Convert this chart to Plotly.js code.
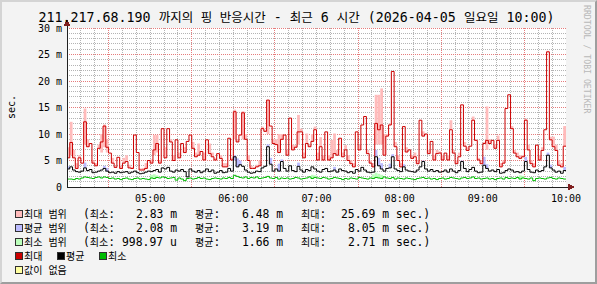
<!DOCTYPE html>
<html><head><meta charset="utf-8">
<script src="https://cdn.plot.ly/plotly-3.0.1.min.js"></script>
<style>
html,body{margin:0;padding:0;background:#f3f3f3;}
#wrap{position:relative;width:597px;height:284px;overflow:hidden;}
#chart{width:597px;height:284px;}
#chart .shapelayer path{shape-rendering:crispEdges;}
#frame{position:absolute;left:0;top:0;width:597px;height:284px;box-sizing:border-box;border-top:2px solid #d4d4d4;border-left:2px solid #d4d4d4;border-right:2px solid #9e9e9e;border-bottom:2px solid #9e9e9e;pointer-events:none;}
</style></head><body>
<div id="wrap"><div id="chart"></div><div id="frame"></div></div>
<script>
// ---------------- data ----------------
const DAY = '2026-04-05';
const START_MIN = 240;   // 04:00
const END_MIN = 600;     // 10:00
const STEP_MIN = 2;

const TITLE = '211.217.68.190 까지의 핑 반응시간 - 최근 6 시간 (2026-04-05 일요일 10:00)';

// 최대 (max) line, ms
const maxLine = [
 5.5, 8.4, 5.5, 3.5, 5.5, 4.5, 12.3, 7.6, 8.2, 4.5,
 4.0, 7.3, 8.5, 11.5, 7.5, 6.4, 4.5, 3.7, 5.6, 3.5,
 4.5, 4.8, 3.6, 3.5, 9.8, 6.5, 3.2, 3.2, 3.5, 5.0,
 4.5, 7.0, 8.2, 4.5, 11.0, 5.5, 11.0, 8.5, 5.0, 8.9,
 5.5, 8.2, 6.5, 8.6, 9.8, 7.3, 5.7, 6.0, 6.7, 5.1,
 8.9, 6.3, 5.7, 5.1, 6.3, 5.4, 3.8, 3.8, 9.2, 5.1,
 14.2, 8.5, 9.8, 14.0, 9.0, 5.0, 3.5, 3.5, 3.8, 4.0,
 11.0, 10.5, 16.4, 11.5, 8.2, 8.0, 6.5, 9.0, 9.8, 6.0,
 13.0, 7.0, 7.5, 10.4, 10.4, 5.5, 8.2, 7.6, 8.6, 10.8,
 5.1, 7.6, 5.1, 10.4, 5.1, 5.5, 6.3, 6.0, 9.2, 5.7,
 7.0, 5.0, 4.4, 3.8, 10.4, 7.0, 11.7, 13.3, 6.3, 4.5,
 3.8, 12.0, 10.8, 11.7, 6.0, 9.6, 11.7, 21.8, 7.6, 5.0,
 3.8, 11.4, 6.6, 7.0, 5.4, 5.7, 4.4, 12.6, 9.6, 10.0,
 6.3, 8.6, 5.1, 6.3, 6.4, 5.1, 6.4, 5.1, 10.8, 6.4,
 4.4, 5.7, 15.5, 7.7, 6.9, 7.7, 12.6, 8.8, 5.1, 4.4,
 8.2, 8.8, 8.2, 8.8, 7.3, 8.8, 3.8, 4.5, 14.8, 17.4,
 11.0, 6.4, 5.7, 5.4, 5.7, 12.6, 7.0, 4.4, 3.8, 7.9,
 5.1, 6.9, 10.8, 25.5, 8.9, 7.6, 6.9, 4.1, 3.8, 7.7
];
// 최대 범위 (max range) top and bottom
const maxRangeHi = [
 7.5, 12.3, 7.0, 4.5, 6.0, 4.5, 14.8, 9.0, 8.2, 5.0,
 4.5, 8.0, 10.0, 11.8, 9.0, 6.4, 5.5, 4.0, 5.6, 4.0,
 5.5, 6.0, 4.2, 3.8, 9.8, 6.5, 3.5, 3.6, 4.5, 5.0,
 5.2, 9.8, 9.8, 5.0, 11.0, 7.5, 11.0, 9.0, 6.0, 8.9,
 6.5, 8.2, 7.5, 8.6, 9.8, 8.5, 6.5, 8.2, 6.7, 6.5,
 8.9, 8.2, 6.5, 5.5, 6.3, 6.0, 4.5, 4.5, 9.2, 5.5,
 14.6, 9.0, 10.0, 14.3, 10.0, 6.0, 4.0, 3.8, 4.2, 5.0,
 11.4, 10.8, 16.4, 11.5, 9.0, 9.0, 10.0, 10.0, 9.8, 7.0,
 13.0, 8.0, 7.9, 13.6, 11.0, 6.5, 10.1, 8.0, 10.0, 11.4,
 6.5, 9.4, 6.0, 10.4, 6.0, 8.9, 10.1, 7.0, 9.2, 6.5,
 7.9, 6.0, 5.0, 4.5, 10.4, 8.0, 11.7, 13.3, 7.0, 5.0,
 4.5, 17.4, 17.4, 18.6, 10.0, 10.0, 12.0, 21.8, 8.5, 6.0,
 4.5, 11.4, 7.5, 7.0, 6.0, 6.5, 5.0, 12.6, 10.5, 10.0,
 7.0, 8.6, 6.0, 7.0, 6.7, 6.0, 6.4, 6.0, 12.6, 7.0,
 5.0, 6.5, 15.5, 8.5, 7.5, 7.7, 13.3, 9.0, 5.5, 5.0,
 8.5, 15.2, 9.0, 8.8, 8.0, 9.7, 4.5, 5.0, 14.8, 17.4,
 11.5, 7.0, 6.5, 6.0, 6.0, 12.9, 8.0, 5.0, 4.5, 7.9,
 6.0, 7.5, 10.8, 25.7, 9.5, 9.5, 8.0, 5.0, 4.5, 11.5
];
const maxRangeLo = [
 5.5, 6.0, 5.5, 3.5, 5.5, 4.5, 8.0, 7.6, 8.2, 4.5,
 4.0, 7.3, 6.5, 7.5, 6.5, 6.4, 4.5, 3.7, 5.6, 3.5,
 4.5, 4.8, 3.6, 3.5, 9.8, 6.5, 3.2, 3.2, 3.5, 5.0,
 4.5, 6.0, 6.5, 4.5, 11.0, 5.5, 11.0, 8.5, 5.0, 8.9,
 5.5, 8.2, 6.5, 8.6, 9.8, 7.3, 5.7, 6.0, 6.7, 5.1,
 8.9, 6.3, 5.7, 5.1, 6.3, 5.4, 3.8, 3.8, 9.2, 5.1,
 9.0, 8.5, 9.8, 9.0, 9.0, 5.0, 3.5, 3.5, 3.8, 4.0,
 11.0, 10.5, 10.0, 11.5, 8.2, 8.0, 6.5, 9.0, 9.8, 6.0,
 13.0, 7.0, 7.5, 8.0, 10.4, 5.5, 8.2, 7.6, 8.6, 10.8,
 5.1, 7.6, 5.1, 10.4, 5.1, 5.5, 6.3, 6.0, 9.2, 5.7,
 7.0, 5.0, 4.4, 3.8, 10.4, 7.0, 11.7, 13.3, 6.3, 4.5,
 3.8, 8.0, 8.0, 8.0, 6.0, 9.6, 11.7, 21.8, 7.6, 5.0,
 3.8, 11.4, 6.6, 7.0, 5.4, 5.7, 4.4, 12.6, 9.6, 10.0,
 6.3, 8.6, 5.1, 6.3, 6.4, 5.1, 6.4, 5.1, 10.8, 6.4,
 4.4, 5.7, 15.5, 7.7, 6.9, 7.7, 12.6, 8.8, 5.1, 4.4,
 8.2, 7.0, 8.2, 8.8, 7.3, 8.8, 3.8, 4.5, 14.8, 17.4,
 11.0, 6.4, 5.7, 5.4, 5.7, 12.6, 7.0, 4.4, 3.8, 7.9,
 5.1, 6.9, 10.8, 25.5, 8.9, 7.6, 6.9, 4.1, 3.8, 7.7
];
// 평균 (average) line
const avgLine = [
 3.4, 3.8, 3.2, 2.9, 2.8, 3.0, 3.6, 3.1, 3.3, 2.7,
 2.8, 3.0, 3.2, 3.5, 3.0, 2.7, 2.8, 2.6, 2.9, 2.7,
 2.8, 2.9, 2.6, 2.8, 3.0, 2.7, 2.5, 2.6, 2.8, 3.0,
 2.9, 3.1, 3.3, 2.8, 3.6, 3.4, 3.7, 3.0, 2.8, 3.2,
 3.0, 3.3, 2.9, 1.9, 3.4, 3.0, 2.8, 3.1, 2.7, 3.0,
 3.4, 2.9, 3.2, 2.6, 2.8, 3.1, 2.7, 2.8, 3.5, 3.0,
 5.7, 3.8, 4.2, 3.9, 3.2, 2.8, 2.6, 2.7, 3.0, 2.9,
 3.6, 3.9, 7.6, 4.3, 3.0, 3.4, 3.0, 4.8, 3.5, 3.0,
 4.0, 3.1, 2.9, 3.9, 3.2, 2.8, 3.3, 3.1, 3.8, 3.4,
 3.0, 2.8, 3.3, 3.5, 2.9, 3.0, 3.2, 2.8, 3.4, 3.1,
 3.0, 2.7, 2.9, 2.6, 3.3, 3.0, 3.7, 3.2, 2.8, 2.7,
 2.8, 5.7, 4.0, 3.4, 3.0, 3.5, 3.6, 5.7, 3.4, 3.1,
 2.9, 3.8, 3.2, 3.0, 2.9, 2.8, 3.2, 3.8, 4.8, 3.4,
 3.0, 3.3, 2.9, 3.1, 2.8, 2.9, 3.2, 2.8, 3.4, 3.0,
 2.7, 3.1, 4.8, 3.5, 2.9, 3.3, 3.7, 3.0, 2.7, 2.8,
 4.1, 3.5, 3.0, 3.2, 2.9, 3.3, 2.6, 2.7, 3.1, 3.4,
 3.2, 2.8, 2.9, 2.7, 3.0, 4.8, 3.3, 2.8, 2.7, 3.2,
 2.9, 3.1, 3.8, 6.0, 3.6, 3.2, 2.8, 3.0, 2.6, 3.1
];
// 최소 (min) line
const minLine = [
 1.5, 1.5, 1.4, 1.6, 1.5, 1.7, 1.9, 1.8, 1.7, 1.6,
 1.8, 1.9, 1.7, 1.9, 1.8, 1.6, 1.7, 1.5, 1.6, 1.4,
 1.6, 1.7, 1.5, 1.4, 1.6, 1.7, 1.5, 1.6, 1.5, 1.4,
 1.7, 1.6, 1.8, 1.7, 1.9, 1.8, 1.6, 1.7, 1.8, 1.3,
 1.7, 1.5, 1.2, 1.6, 1.7, 1.5, 1.6, 1.8, 1.6, 1.7,
 1.5, 1.4, 1.6, 1.7, 1.6, 1.5, 1.7, 1.6, 1.8, 1.6,
 2.2, 2.0, 1.8, 1.7, 1.9, 1.6, 1.8, 1.7, 1.9, 1.6,
 1.7, 1.8, 2.0, 1.7, 1.6, 1.8, 1.5, 1.7, 1.6, 1.7,
 1.5, 1.6, 1.8, 1.7, 1.5, 1.6, 1.7, 1.9, 1.6, 1.8,
 1.7, 1.6, 1.8, 1.7, 1.5, 1.6, 1.8, 1.7, 1.6, 1.4,
 1.6, 1.5, 1.7, 1.6, 1.5, 1.8, 1.7, 1.6, 1.5, 1.7,
 1.6, 1.8, 1.7, 1.6, 1.9, 1.7, 1.6, 1.8, 1.5, 1.7,
 1.6, 1.5, 1.7, 1.6, 1.5, 1.4, 1.6, 1.7, 1.8, 1.6,
 1.7, 1.5, 1.6, 1.4, 1.6, 1.7, 1.5, 1.6, 1.8, 1.7,
 1.6, 1.5, 1.7, 1.8, 1.6, 1.7, 1.9, 1.6, 1.7, 1.5,
 1.6, 1.7, 1.5, 1.6, 1.4, 1.6, 1.7, 1.5, 1.8, 1.6,
 1.7, 1.6, 1.8, 1.5, 1.7, 1.6, 1.5, 1.7, 1.2, 1.6,
 1.7, 1.6, 1.5, 1.7, 1.8, 1.6, 1.5, 1.7, 1.6, 1.5
];
// 평균 범위 (average range), where visible
const avgRangeTimes = ['04:00','04:12','04:26','04:28','06:00','06:02','06:04','06:24','06:26','06:32','06:34','06:46',
  '07:12','07:42','07:44','07:46','07:52','07:54','08:02','08:16','08:44','09:00','09:02','09:30','09:46','09:48','09:58'];
const avgRangeLo = [3.4,3.6,3.5,3.0,5.0,3.8,4.2,7.6,4.3,3.0,4.8,3.9, 3.2,5.7,4.0,3.4,3.6,5.7,3.8,4.8,4.8,4.1,3.5,4.8,6.0,3.6,3.1];
const avgRangeHi = [3.9,4.6,4.0,3.6,6.0,5.4,5.0,8.05,5.5,4.4,5.2,4.6, 3.8,7.0,5.5,4.5,4.4,6.2,4.3,5.0,5.0,5.7,4.3,5.7,6.5,4.2,3.8];
// 최소 범위 (min range), where visible
const minRangeTimes = ['05:00','05:02','05:04','06:56','06:58','07:40','07:42','07:44','07:46','09:26','09:28'];
const minRangeLo = [1.7,1.6,1.8,1.6,1.8,1.6,1.8,1.7,1.6,1.5,1.7];
const minRangeHi = [2.3,2.4,2.2,2.3,2.2,2.4,2.71,2.5,2.3,2.2,2.1];

const hourLabels = ['05:00','06:00','07:00','08:00','09:00','10:00'];
const majorGridTimes = ['04:30','05:30','06:30','07:30','08:30','09:30','10:00'];
const MINOR_GRID_MIN = 10;
const yTickVals = [0,5,10,15,20,25,30];
const yTickText = ['0','5 m','10 m','15 m','20 m','25 m','30 m'];
const Y_MINOR = 1;

const legendNames = ['최대 범위','평균 범위','최소 범위'];
const legendMin = ['2.83 m','2.08 m','998.97 u'];
const legendAvg = ['6.48 m','3.19 m','1.66 m'];
const legendMax = ['25.69 m','8.05 m','2.71 m'];

// ---------------- styling ----------------
const MONO = "'DejaVu Sans Mono', 'Noto Sans CJK KR', monospace";
const C = {
  maxRange:'#ffbbbb', avgRange:'#bbbbff', minRange:'#bbffbb',
  max:'#cc0000', avg:'#000000', min:'#00bb00', none:'#ffffa0',
  grid:'#b4b4b4', mgrid:'#e67c7c', arrow:'#7f1f1f', axis:'#202020'
};
const L = 67, R = 566, T = 28, B = 187;       // plot box in pixels
const W = 597, H = 284;
const Y_MAX = yTickVals[yTickVals.length-1];

function pad(n){ return (n<10?'0':'')+n; }
function stamp(min){ return DAY+' '+pad(Math.floor(min/60))+':'+pad(min%60)+':00'; }
function hm(s){ const p=s.split(':'); return (+p[0])*60 + (+p[1]); }
function PX(x){ return (x-L)/(R-L); }
function PY(y){ return (B-y)/(B-T); }
function kr(s, size){ return s.replace(/([\uAC00-\uD7A3]+(?:\s+[\uAC00-\uD7A3]+)*)/g, '<span style="font-size:'+size+'px">$1</span>'); }

const starts = maxLine.map((_,i)=>stamp(START_MIN+i*STEP_MIN));
const centers = maxLine.map((_,i)=>stamp(START_MIN+i*STEP_MIN+STEP_MIN/2));
const stepX = starts.concat([stamp(END_MIN)]);
const BARW = STEP_MIN*60000;
const xRange = [stamp(START_MIN), stamp(END_MIN)];

function stepLine(vals, color){
  return {type:'scatter', mode:'lines', x:stepX, y:vals.concat([vals[vals.length-1]]),
    line:{color:color, width:1, shape:'hv'}, hoverinfo:'skip', showlegend:false};
}
function rangeBars(xs, lo, hi, color){
  return {type:'bar', x:xs, base:lo, y:hi.map((h,i)=>Math.max(0,h-lo[i])), width:BARW,
    marker:{color:color, line:{width:0}}, hoverinfo:'skip', showlegend:false};
}

const traces = [
  rangeBars(centers, maxRangeLo, maxRangeHi, C.maxRange),
  rangeBars(avgRangeTimes.map(t=>stamp(hm(t)+STEP_MIN/2)), avgRangeLo, avgRangeHi, C.avgRange),
  rangeBars(minRangeTimes.map(t=>stamp(hm(t)+STEP_MIN/2)), minRangeLo, minRangeHi, C.minRange),
  stepLine(maxLine, C.max),
  stepLine(avgLine, C.avg),
  stepLine(minLine, C.min)
];

// ---------------- grid (on the axes' own scales, data-referenced) ----------------
const shapes = [];
function vgrid(m, color){
  shapes.push({type:'line', layer:'below', xref:'x', yref:'y', x0:stamp(m), x1:stamp(m), y0:0, y1:Y_MAX,
    line:{color:color, width:1, dash:'1px,1px'}});
}
function hgrid(v, color){
  shapes.push({type:'line', layer:'below', xref:'x', yref:'y', x0:xRange[0], x1:xRange[1], y0:v, y1:v,
    line:{color:color, width:1, dash:'1px,1px'}});
}
const majorMins = majorGridTimes.map(hm);
for (let m = START_MIN + MINOR_GRID_MIN; m < END_MIN; m += MINOR_GRID_MIN){
  if (majorMins.indexOf(m) < 0) vgrid(m, C.grid);
}
for (let v = Y_MINOR; v < Y_MAX; v += Y_MINOR){
  if (yTickVals.indexOf(v) < 0) hgrid(v, C.grid);
}
majorMins.forEach(m => vgrid(m, C.mgrid));
yTickVals.slice(1).forEach(v => hgrid(v, C.mgrid));

// ---------------- decorations ----------------
shapes.push(
  {type:'line', xref:'paper', yref:'paper', x0:PX(L), x1:PX(570), y0:0, y1:0, line:{color:C.axis, width:1}},
  {type:'line', xref:'paper', yref:'paper', x0:0, x1:0, y0:0, y1:PY(24), line:{color:C.axis, width:1}},
  {type:'path', xref:'paper', yref:'paper', fillcolor:C.arrow, line:{color:C.arrow, width:1},
   path:'M'+PX(67)+','+PY(20.5)+' L'+PX(64.5)+','+PY(25.5)+' L'+PX(69.5)+','+PY(25.5)+' Z'},
  {type:'path', xref:'paper', yref:'paper', fillcolor:C.arrow, line:{color:C.arrow, width:1},
   path:'M'+PX(573.5)+','+PY(187)+' L'+PX(568.5)+','+PY(184.5)+' L'+PX(568.5)+','+PY(189.5)+' Z'}
);
function square(x, yc, color){
  shapes.push({type:'rect', xref:'paper', yref:'paper', x0:PX(x+0.5), x1:PX(x+7.5), y0:PY(yc+3.5), y1:PY(yc-3.5),
    fillcolor:color, line:{color:'#303030', width:1}});
}
const annotations = [];
function txt(s, x, y, anchor, size, extra){
  annotations.push(Object.assign({text:s, xref:'paper', yref:'paper', x:PX(x), y:PY(y), xanchor:anchor, yanchor:'middle',
    showarrow:false, borderpad:0, font:{family:MONO, size:size, color:'#000'}}, extra||{}));
}
const LF = 11.4, KF = 10;
const rowY = [214, 228, 242, 256, 270];
const rangeColors = [C.maxRange, C.avgRange, C.minRange];
for (let i=0;i<3;i++){
  const y = rowY[i];
  square(15, y, rangeColors[i]);
  txt(kr(legendNames[i],KF), 22.5, y, 'left', LF);
  txt(kr('(최소:',KF), 81.5, y, 'left', LF);
  txt(legendMin[i], 178, y, 'right', LF);
  txt(kr('평균:',KF), 193.5, y, 'left', LF);
  txt(legendAvg[i], 284, y, 'right', LF);
  txt(kr('최대:',KF), 299.5, y, 'left', LF);
  txt(legendMax[i]+' sec.)', 431, y, 'right', LF);
}
square(15, rowY[3], C.max);  txt(kr('최대',KF), 22.5, rowY[3], 'left', LF);
square(57, rowY[3], C.avg);  txt(kr('평균',KF), 64.5, rowY[3], 'left', LF);
square(99, rowY[3], C.min);  txt(kr('최소',KF), 106.5, rowY[3], 'left', LF);
square(15, rowY[4], C.none); txt(kr('값이 없음',KF), 22.5, rowY[4], 'left', LF);

txt('sec.', 11.5, 107.5, 'center', 10, {textangle:-90});
txt('RRDTOOL / TOBI OETIKER', 587, 59, 'center', 8.2, {textangle:90, font:{family:MONO, size:8.2, color:'#b8b8b8'}});

const layout = {
  width:W, height:H,
  margin:{l:L, r:W-R, t:T, b:H-B, pad:0},
  paper_bgcolor:'#f3f3f3', plot_bgcolor:'#ffffff',
  font:{family:MONO, size:10, color:'#000'},
  showlegend:false, barmode:'overlay', hovermode:false,
  title:{text:kr(TITLE, 12.5), font:{family:MONO, size:13.3, color:'#000'},
    xref:'container', yref:'container', x:296.5/W, y:1-17.5/H, xanchor:'center', yanchor:'middle'},
  xaxis:{type:'date', range:xRange, tickmode:'array', tickvals:hourLabels.map(t=>stamp(hm(t))), ticktext:hourLabels,
    showgrid:false, ticks:'', zeroline:false, showline:false, fixedrange:true, ticklabelstandoff:4,
    tickfont:{family:MONO, size:10, color:'#000'}},
  yaxis:{range:[0,Y_MAX], tickmode:'array', tickvals:yTickVals, ticktext:yTickText, ticks:'',
    showgrid:false, zeroline:false, showline:false, fixedrange:true,
    tickfont:{family:MONO, size:10, color:'#000'}, ticklabelstandoff:4},
  shapes:shapes, annotations:annotations
};
Plotly.newPlot('chart', traces, layout, {displayModeBar:false, staticPlot:true});
</script>
</body></html>
